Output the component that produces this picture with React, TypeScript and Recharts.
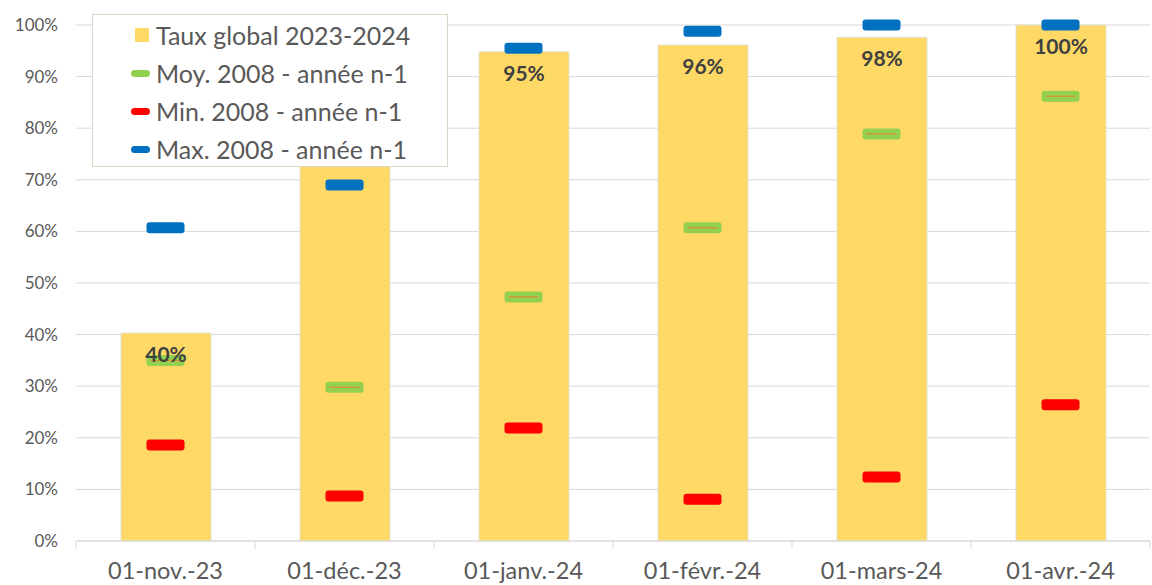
import React from 'react';
import { ComposedChart, Bar, Line, XAxis, YAxis, CartesianGrid, LabelList } from 'recharts';

const categories = ['01-nov.-23', '01-déc.-23', '01-janv.-24', '01-févr.-24', '01-mars-24', '01-avr.-24'];
const tauxGlobal = [40.3, 85, 94.8, 96.1, 97.6, 100];
const moyenne = [35, 29.8, 47.3, 60.7, 78.9, 86.2];
const minimum = [18.6, 8.7, 21.9, 8.1, 12.4, 26.4];
const maximum = [60.7, 69, 95.5, 98.8, 100, 100];
const yTicks = [0, 10, 20, 30, 40, 50, 60, 70, 80, 90, 100];

const data = categories.map((cat, i) => ({
  cat,
  taux: tauxGlobal[i],
  moy: moyenne[i],
  min: minimum[i],
  max: maximum[i],
}));

const W = 1152;
const H = 585;
const MARGIN = { top: 25, right: 2, bottom: 0, left: 0 };
const Y_WIDTH = 76;
const X_HEIGHT = 44;
const PLOT_BOTTOM = H - X_HEIGHT;
const BAND = (W - MARGIN.right - Y_WIDTH) / categories.length;

const FONT = 'Lato, "Open Sans", sans-serif';
const BLUE = '#0070C0';
const GREEN = '#92D050';
const RED = '#FF0000';
const GOLD = '#FFD966';

const makeDot = (color: string, inner?: string) => (props: any) => {
  const { cx, cy, index } = props;
  if (cx == null || cy == null) return <g key={index} />;
  return (
    <g key={index}>
      <rect x={cx - 19} y={cy - 5.5} width={38} height={11} rx={3} ry={3} fill={color} />
      {inner && <line x1={cx - 15} x2={cx + 15} y1={cy} y2={cy} stroke={inner} strokeWidth={1} />}
    </g>
  );
};

const XTick = (props: any) => {
  const { x, index, payload } = props;
  return (
    <g>
      <line x1={x - BAND / 2} x2={x - BAND / 2} y1={PLOT_BOTTOM} y2={PLOT_BOTTOM + 8} stroke="#d9d9d9" />
      {index === categories.length - 1 && (
        <line x1={x + BAND / 2} x2={x + BAND / 2} y1={PLOT_BOTTOM} y2={PLOT_BOTTOM + 8} stroke="#d9d9d9" />
      )}
      <text x={x} y={PLOT_BOTTOM + 38} textAnchor="middle" fill="#595959" fontSize={23.5} fontFamily={FONT}>
        {payload.value}
      </text>
    </g>
  );
};

const legendItems = [
  { label: 'Taux global 2023-2024', color: GOLD, kind: 'square' },
  { label: 'Moy. 2008 - année n-1', color: GREEN, kind: 'line' },
  { label: 'Min. 2008 - année n-1', color: RED, kind: 'line' },
  { label: 'Max. 2008 - année n-1', color: BLUE, kind: 'line' },
];

const LegendBox = () => (
  <div
    style={{
      position: 'absolute',
      left: 92,
      top: 14,
      width: 356,
      height: 153,
      background: '#fff',
      border: '1px solid #dcd8c8',
      boxSizing: 'border-box',
      fontFamily: FONT,
      fontSize: 25,
      color: '#595959',
      paddingTop: 1,
    }}
  >
    {legendItems.map((it) => (
      <div
        key={it.label}
        style={{ display: 'flex', alignItems: 'center', height: 38, paddingLeft: it.kind === 'square' ? 42 : 38 }}
      >
        {it.kind === 'square' ? (
          <span style={{ width: 14, height: 14, background: it.color, marginRight: 7, display: 'inline-block' }} />
        ) : (
          <span style={{ width: 19, height: 7, borderRadius: 3.5, background: it.color, marginRight: 6, display: 'inline-block' }} />
        )}
        <span>{it.label}</span>
      </div>
    ))}
  </div>
);

export default function App() {
  return (
    <div style={{ position: 'absolute', left: 0, top: 0, width: W, height: H, background: '#fff' }}>
      <ComposedChart width={W} height={H} data={data} margin={MARGIN} barGap={0}>
        <CartesianGrid vertical={false} stroke="#d9d9d9" />
        <XAxis
          dataKey="cat"
          height={X_HEIGHT}
          axisLine={{ stroke: '#d9d9d9' }}
          tickLine={false}
          tick={<XTick />}
          interval={0}
        />
        <YAxis
          width={Y_WIDTH}
          domain={[0, 100]}
          ticks={yTicks}
          interval={0}
          axisLine={false}
          tickLine={false}
          tickSize={0}
          tickMargin={18}
          tickFormatter={(v: number) => `${v}%`}
          tick={{ fill: '#595959', fontSize: 17, fontFamily: FONT }}
        />
        <Bar dataKey="taux" fill={GOLD} stroke="#e5e0cc" strokeWidth={1} barSize={90} isAnimationActive={false}>
          <LabelList
            dataKey="taux"
            position="insideTop"
            offset={14}
            formatter={(v: any) => `${Math.round(Number(v))}%`}
            fill="#404040"
            fontSize={21}
            fontWeight="bold"
            fontFamily={FONT}
          />
        </Bar>
        <Line dataKey="moy" stroke="none" dot={makeDot(GREEN, '#ED7D31')} activeDot={false} isAnimationActive={false} />
        <Line dataKey="min" stroke="none" dot={makeDot(RED)} activeDot={false} isAnimationActive={false} />
        <Line dataKey="max" stroke="none" dot={makeDot(BLUE)} activeDot={false} isAnimationActive={false} />
      </ComposedChart>
      <LegendBox />
    </div>
  );
}
